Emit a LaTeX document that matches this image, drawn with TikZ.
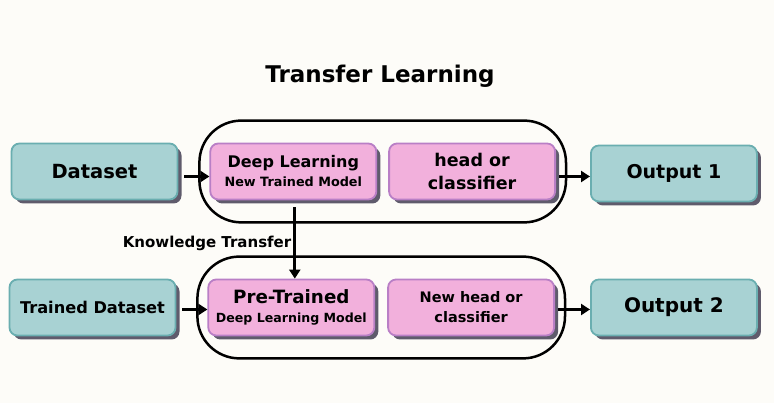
\documentclass[tikz,border=0pt]{standalone}
\usepackage{fontspec}
\setmainfont{DejaVu Sans}
\usetikzlibrary{positioning,fit,shadows,arrows.meta}
\definecolor{paper}{HTML}{FDFCF8}
\definecolor{tealf}{HTML}{A8D2D3}
\definecolor{teald}{HTML}{6AAEB0}
\definecolor{pinkf}{HTML}{F2B0DC}
\definecolor{pinkd}{HTML}{B97FC6}
\definecolor{shd}{HTML}{5F5B6C}
\tikzset{
  db/.style={rectangle, rounded corners=8pt, minimum width=166pt, minimum height=56pt, text centered, draw=teald, line width=1.8pt, fill=tealf, drop shadow={shadow xshift=4pt, shadow yshift=-4pt, fill=shd, opacity=1}},
  mb/.style={rectangle, rounded corners=8pt, minimum width=166pt, minimum height=56pt, align=center, draw=pinkd, line width=1.8pt, fill=pinkf, drop shadow={shadow xshift=4pt, shadow yshift=-4pt, fill=shd, opacity=1}},
  grp/.style={rectangle, draw=black, line width=2.5pt, rounded corners=42pt, inner xsep=10pt, inner ysep=22pt},
  node distance=11pt
}
\newcommand{\fs}[2]{\fontsize{#1}{#2}\selectfont\bfseries}

\begin{document}
\begin{tikzpicture}[x=1pt, y=1pt, line width=3pt, >={Triangle[length=9pt,width=11pt]}]
	\useasboundingbox[fill=paper] (0,0) rectangle (774,403);
	\node[font=\fs{23}{26}] (title) at (380,327) {Transfer Learning};
	
	\node[db, font=\fs{19.5}{24}] (dataA) at (94.5,231.5) {Dataset};
	\node[mb, font=\fs{16}{19}, right=31pt of dataA] (modelA) {Deep Learning\\{\fs{12.8}{19}New Trained Model}};
	\node[mb, font=\fs{17.5}{23}, right=11pt of modelA] (headA) {head or\\classifier};
	\node[db, font=\fs{19}{24}, right=34pt of headA, yshift=-2pt] (outA) {Output 1};
	
	\node[db, font=\fs{16.2}{20}] (dataB) at (92.5,95.5) {Trained Dataset};
	\node[mb, font=\fs{18.3}{19}, right=31pt of dataB] (modelB) {Pre-Trained\\{\fs{12.6}{19}Deep Learning Model}};
	\node[mb, font=\fs{14.5}{20}, right=12pt of modelB] (headB) {New head or\\classifier};
	\node[db, font=\fs{20}{24}, right=35pt of headB] (outB) {Output 2};
	
	\node[grp, fit=(modelA)(headA)] (grpA) {};
	\node[grp, fit=(modelB)(headB)] (grpB) {};
	%
	\draw[->, shorten <=6pt] ([yshift=-5pt]dataA.east) -- ([yshift=-5pt]modelA.west);
	\draw[->, shorten <=3pt] ([yshift=-5pt]headA.east) -- ([yshift=-5pt]headA.east -| outA.west);
	
	\draw[->, shorten <=6pt] ([yshift=-2pt]dataB.east) -- ([yshift=-2pt]modelB.west);
	\draw[->, shorten <=3pt] ([yshift=-2pt]headB.east) -- ([yshift=-2pt]outB.west);
	
	\draw[->, shorten <=7pt] ([xshift=1.5pt]modelA.south) -- ([xshift=1.5pt]modelA.south |- modelB.north) node[midway, left, yshift=-4pt, inner sep=2pt, font=\fs{15}{18}] {Knowledge Transfer};
\end{tikzpicture}
\end{document}
